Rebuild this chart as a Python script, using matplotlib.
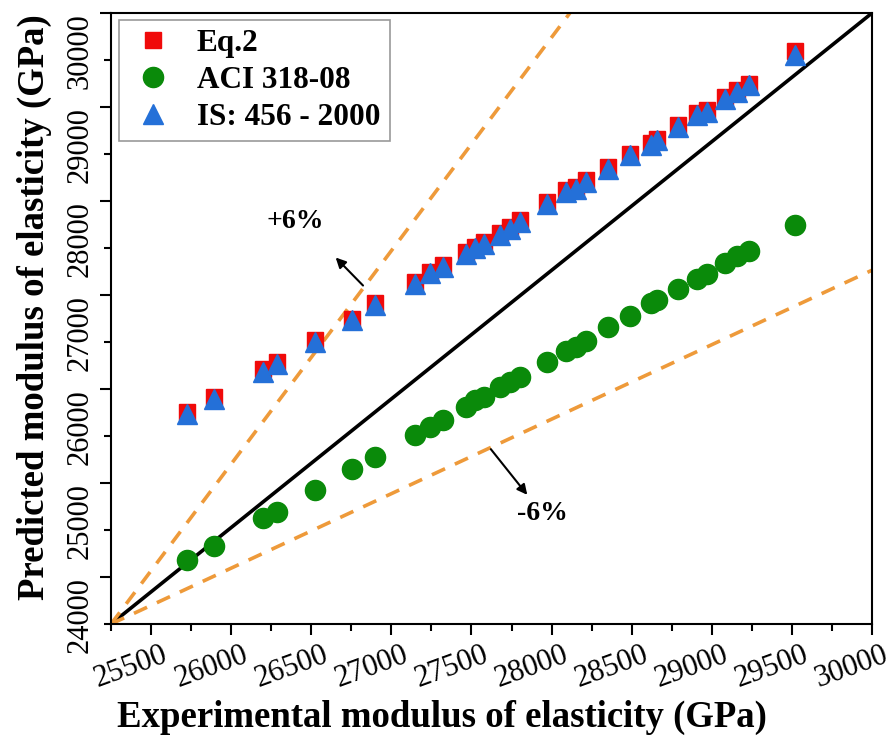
import matplotlib
matplotlib.use("Agg")
import matplotlib.pyplot as plt
from matplotlib.ticker import MultipleLocator
import matplotlib.transforms as mtrans

plt.rcParams['font.family'] = ['Liberation Serif', 'DejaVu Serif']

# experimental modulus (GPa)
exp_vals = [25725, 25890, 26200, 26285, 26525, 26755, 26900, 27145, 27240, 27325,
            27465, 27520, 27575, 27680, 27740, 27800, 27970, 28090, 28150, 28215,
            28355, 28490, 28620, 28660, 28790, 28910, 28970, 29085, 29160, 29235, 29520]
# predicted values
eq2_vals = [25760, 25920, 26210, 26290, 26520, 26750, 26910, 27140, 27250, 27320,
            27460, 27515, 27565, 27655, 27725, 27795, 27990, 28115, 28150, 28225,
            28365, 28505, 28615, 28665, 28810, 28935, 28970, 29110, 29180, 29250, 29600]
aci_vals = [24180, 24330, 24625, 24695, 24925, 25145, 25280, 25510, 25600, 25675,
            25810, 25880, 25920, 26025, 26080, 26130, 26285, 26400, 26450, 26515,
            26655, 26775, 26910, 26945, 27060, 27170, 27220, 27340, 27410, 27470, 27750]
is_vals = [25735, 25895, 26185, 26270, 26500, 26730, 26890, 27120, 27230, 27300,
           27440, 27495, 27545, 27640, 27705, 27775, 27970, 28095, 28130, 28205,
           28345, 28485, 28595, 28645, 28790, 28915, 28950, 29090, 29160, 29230, 29550]

# reference lines (drawn from the lower-left corner)
ref_x = [25250, 30000]
ref_y = [23500, 30000]
upper_x = [25250, 28114]
upper_y = [23500, 30000]
lower_x = [25250, 30000]
lower_y = [23500, 27264]

fig = plt.figure(figsize=(8.94, 7.45), dpi=100)
ax = fig.add_axes([0.1242, 0.1624, 0.8512, 0.8201])

orange = '#ee9a3a'
ax.plot(ref_x, ref_y, color='black', lw=2.6, zorder=2)
ax.plot(upper_x, upper_y, color=orange, lw=2.6, ls=(0, (4, 3)), zorder=2)
ax.plot(lower_x, lower_y, color=orange, lw=2.6, ls=(0, (4, 3)), zorder=2)

ax.plot(exp_vals, eq2_vals, 's', color='#f00a0a', ms=12, ls='none', label='Eq.2', zorder=3)
ax.plot(exp_vals, aci_vals, 'o', color='#0a8a0a', ms=14.5, ls='none', label='ACI 318-08', zorder=3)
ax.plot(exp_vals, is_vals, '^', color='#2470d8', ms=15, ls='none', label='IS: 456 - 2000', zorder=4)

ax.set_xlim(25250, 30000)
ax.set_ylim(23500, 30000)
ax.xaxis.set_minor_locator(MultipleLocator(250))
ax.yaxis.set_minor_locator(MultipleLocator(500))
ax.set_xticks(range(25500, 30001, 500))
ax.set_yticks(range(24000, 30001, 1000))

ax.tick_params(which='both', direction='out', width=1.5, top=False, right=False)
ax.tick_params(which='major', length=8, labelsize=22, pad=4)
ax.tick_params(which='minor', length=5)
for sp in ax.spines.values():
    sp.set_linewidth(1.5)

for lab in ax.get_xticklabels():
    lab.set_rotation(20)
    lab.set_ha('center')
    lab.set_transform(lab.get_transform() + mtrans.ScaledTranslation(-0.2, 0, fig.dpi_scale_trans))
for lab in ax.get_yticklabels():
    lab.set_rotation(90)
    lab.set_va('top')

ax.set_xlabel('Experimental modulus of elasticity (GPa)', fontsize=26.5, fontweight='bold')
ax.set_ylabel('Predicted modulus of elasticity (GPa)', fontsize=26.5, fontweight='bold')
ax.xaxis.set_label_coords(0.435, -0.124)
ax.yaxis.set_label_coords(-0.077, 0.519)

ax.annotate('', xy=(26640, 27420), xytext=(26835, 27080),
            arrowprops=dict(arrowstyle='-|>', color='black', lw=1.5, mutation_scale=15))
ax.text(26399, 27777, '+6%', fontsize=20, fontweight='bold', ha='center', va='center')
ax.annotate('', xy=(27859, 24851), xytext=(27610, 25383),
            arrowprops=dict(arrowstyle='-|>', color='black', lw=1.5, mutation_scale=15))
ax.text(27940, 24681, '-6%', fontsize=20, fontweight='bold', ha='center', va='center')

leg = ax.legend(loc='upper left', bbox_to_anchor=(0.01, 0.989), borderaxespad=0,
                fancybox=False, edgecolor='#999999', framealpha=1,
                prop={'weight': 'bold', 'size': 22.5}, handletextpad=0.6,
                labelspacing=0.25, borderpad=0.3, handlelength=1.6)
leg.get_frame().set_linewidth(1.2)

fig.savefig('out.png', dpi=100)
